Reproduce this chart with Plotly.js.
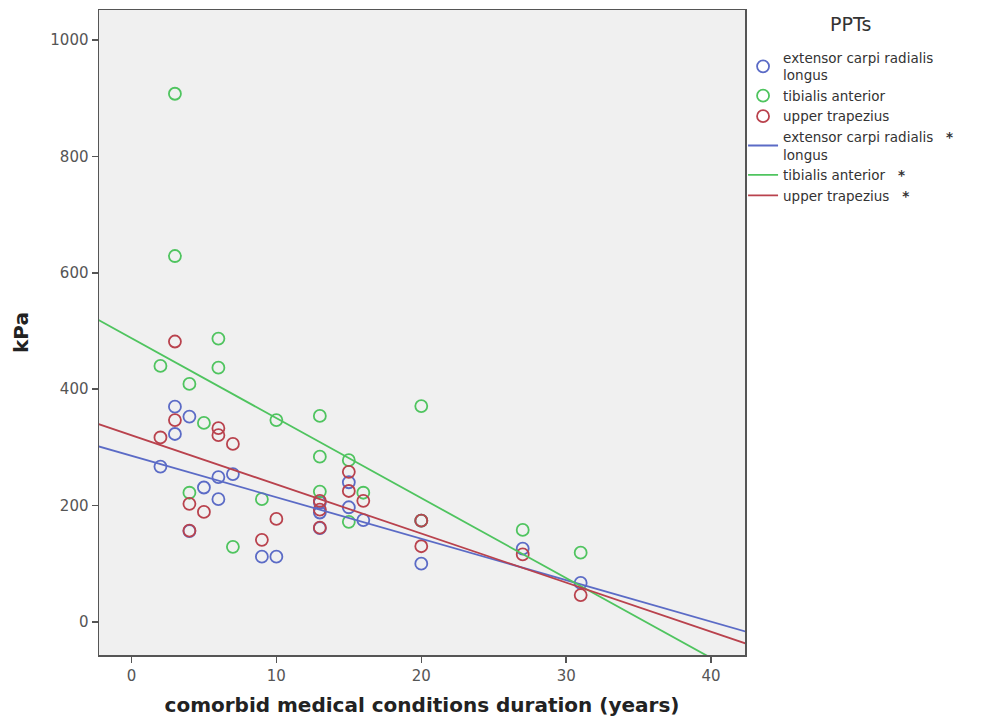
<!DOCTYPE html>
<html>
<head>
<meta charset="utf-8">
<script src="https://cdn.plot.ly/plotly-3.0.1.min.js"></script>
<style>html,body{margin:0;padding:0;background:#fff;}#chart{width:990px;height:723px;}</style>
</head>
<body>
<div id="chart"></div>
<script>
// Data
const ecrlX = [2, 3, 3, 4, 5, 6, 6, 7, 4, 9, 10, 13, 13, 13, 15, 15, 16, 20, 20, 27, 31];
const ecrlY = [267, 370, 323, 353, 231, 249, 211, 254, 156, 112, 112, 188, 161, 205, 240, 197, 175, 174, 100, 126, 67];
const tibX = [3, 3, 2, 4, 6, 6, 5, 10, 4, 7, 9, 13, 13, 13, 15, 15, 16, 20, 20, 27, 31];
const tibY = [908, 629, 440, 409, 487, 437, 342, 347, 222, 129, 211, 354, 284, 224, 278, 172, 222, 371, 174, 158, 119];
const utX = [3, 3, 2, 6, 6, 7, 4, 5, 4, 9, 10, 13, 13, 13, 15, 15, 16, 20, 20, 27, 31];
const utY = [482, 347, 317, 333, 321, 306, 203, 189, 157, 141, 177, 208, 193, 162, 258, 225, 208, 174, 130, 116, 46];
const seriesNames = ["extensor carpi radialis<br>longus", "tibialis anterior", "upper trapezius"];
const fitNames = ["extensor carpi radialis   <b>*</b><br>longus", "tibialis anterior   <b>*</b>", "upper trapezius   <b>*</b>"];
const legendTitle = "PPTs";
const xTitle = "comorbid medical conditions duration (years)";
const yTitle = "kPa";
const xTicks = [0, 10, 20, 30, 40];
const yTicks = [0, 200, 400, 600, 800, 1000];

const colors = ["#5b6bc6", "#4fc45f", "#b9424d"];
const xRange = [-2.24, 42.34];
const yRange = [-57, 1052];
const FONT = "DejaVu Sans, Verdana, sans-serif";

function fit(xs, ys) {
  const n = xs.length;
  const mx = xs.reduce((a, b) => a + b, 0) / n;
  const my = ys.reduce((a, b) => a + b, 0) / n;
  let sxy = 0, sxx = 0;
  for (let i = 0; i < n; i++) { sxy += (xs[i] - mx) * (ys[i] - my); sxx += (xs[i] - mx) ** 2; }
  const b = sxy / sxx;
  const a = my - b * mx;
  const x0 = xRange[0] - 1, x1 = xRange[1] + 1;
  return { x: [x0, x1], y: [a + b * x0, a + b * x1] };
}

const groups = [[ecrlX, ecrlY], [tibX, tibY], [utX, utY]];
const traces = [];
groups.forEach((g, i) => {
  traces.push({
    type: "scatter", mode: "markers", x: g[0], y: g[1], name: seriesNames[i],
    marker: { symbol: "circle-open", size: 12, color: colors[i], line: { width: 1.8, color: colors[i] } },
    hoverinfo: "skip"
  });
});
groups.forEach((g, i) => {
  const f = fit(g[0], g[1]);
  traces.push({
    type: "scatter", mode: "lines", x: f.x, y: f.y, name: fitNames[i],
    line: { color: colors[i], width: 1.8 }, hoverinfo: "skip"
  });
});

const layout = {
  width: 990, height: 723,
  margin: { l: 99, r: 245, t: 10, b: 68 },
  paper_bgcolor: "#ffffff",
  plot_bgcolor: "#f0f0f0",
  font: { family: FONT, color: "#333" },
  showlegend: true,
  legend: {
    x: 0.997, xanchor: "left", y: 0.95, yanchor: "top",
    bgcolor: "rgba(0,0,0,0)",
    font: { size: 13.5, color: "#333", family: FONT },
    tracegroupgap: 0, itemwidth: 30
  },
  annotations: [{
    text: legendTitle, xref: "paper", yref: "paper",
    x: (851 - 99) / 646, y: (655 - 24) / 645,
    xanchor: "center", yanchor: "middle", showarrow: false,
    font: { size: 19, color: "#333", family: FONT }
  }],
  xaxis: {
    range: xRange, tickvals: xTicks, ticktext: xTicks.map(String),
    showgrid: false, zeroline: false,
    showline: true, mirror: true, linecolor: "#555", linewidth: 1.5,
    ticks: "outside", ticklen: 6, tickcolor: "#555", tickwidth: 1.5,
    tickfont: { size: 15, color: "#555", family: FONT },
    title: { text: xTitle, font: { size: 20, color: "#222", family: FONT, weight: "bold" }, standoff: 14 }
  },
  yaxis: {
    range: yRange, tickvals: yTicks, ticktext: yTicks.map(String),
    showgrid: false, zeroline: false,
    showline: true, mirror: true, linecolor: "#555", linewidth: 1.5,
    ticks: "outside", ticklen: 6, tickcolor: "#555", tickwidth: 1.5,
    tickfont: { size: 15, color: "#555", family: FONT },
    title: { text: yTitle, font: { size: 20, color: "#222", family: FONT, weight: "bold" }, standoff: 16 }
  }
};

Plotly.newPlot("chart", traces, layout, { displayModeBar: false, staticPlot: true });
</script>
</body>
</html>
